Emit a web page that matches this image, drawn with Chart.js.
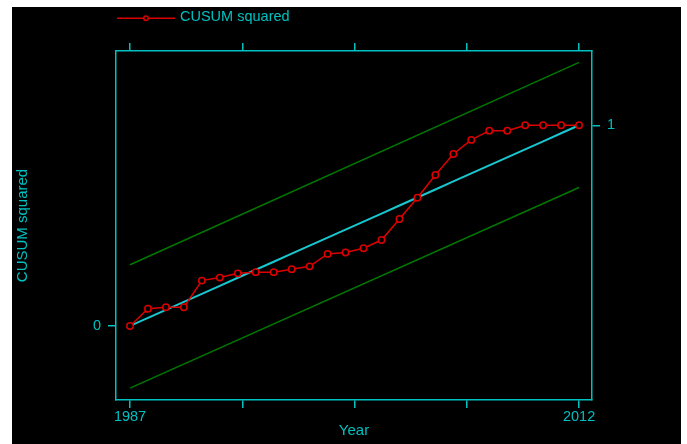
<!DOCTYPE html>
<html>
<head>
<meta charset="utf-8">
<script src="https://cdn.jsdelivr.net/npm/chart.js@4.4.1/dist/chart.umd.min.js"></script>
<style>
  html, body { margin: 0; padding: 0; background: #fff; }
  #wrap { position: absolute; left: 12px; top: 7px; width: 669px; height: 437px; background: #000; }
</style>
</head>
<body>
<div id="wrap"><canvas id="myChart"></canvas></div>
<script>
// values
const years = [1987, 1988, 1989, 1990, 1991, 1992, 1993, 1994, 1995, 1996, 1997, 1998, 1999,
  2000, 2001, 2002, 2003, 2004, 2005, 2006, 2007, 2008, 2009, 2010, 2011, 2012];
const cusumSq = [0, 0.086, 0.093, 0.093, 0.226, 0.241, 0.262, 0.268, 0.268, 0.283, 0.297, 0.359, 0.366,
  0.387, 0.428, 0.533, 0.639, 0.752, 0.857, 0.927, 0.973, 0.973, 1.0, 1.0, 1.0, 1.0];
const expected = [0, 0.04, 0.08, 0.12, 0.16, 0.2, 0.24, 0.28, 0.32, 0.36, 0.4, 0.44, 0.48,
  0.52, 0.56, 0.6, 0.64, 0.68, 0.72, 0.76, 0.8, 0.84, 0.88, 0.92, 0.96, 1.0];
const boundYears = [1987, 2012];
const upperBound = [0.305, 1.313];
const lowerBound = [-0.31, 0.69];
const xTicks = [1987, 1993.25, 1999.5, 2005.75, 2012];
const xLabels = ['1987', '', '', '', '2012'];

const cyan = '#00c0c0';
const font = { family: 'Liberation Sans, Arial, sans-serif', size: 15 };

function pts(xs, ys) {
  return xs.map((x, i) => ({ x: x, y: ys[i] }));
}

function axisGrid() {
  return { drawOnChartArea: false, drawTicks: true, tickLength: 8, color: cyan, lineWidth: 1.5 };
}

const legendPlugin = {
  id: 'cusumLegend',
  afterDraw(chart) {
    const ctx = chart.ctx;
    const x0 = chart.chartArea.left + 1;
    ctx.save();
    ctx.strokeStyle = '#dd0000';
    ctx.lineWidth = 1.5;
    ctx.beginPath();
    ctx.moveTo(x0, 11.3);
    ctx.lineTo(x0 + 58, 11.3);
    ctx.stroke();
    ctx.fillStyle = '#000';
    ctx.beginPath();
    ctx.arc(x0 + 29, 11.3, 2.2, 0, Math.PI * 2);
    ctx.fill();
    ctx.stroke();
    ctx.fillStyle = cyan;
    ctx.font = '14.5px ' + font.family;
    ctx.textBaseline = 'middle';
    ctx.fillText('CUSUM squared', x0 + 63, 10);
    ctx.restore();
  }
};

const ctx = document.getElementById('myChart').getContext('2d');
new Chart(ctx, {
  type: 'line',
  data: {
    datasets: [{
      label: 'CUSUM squared',
      data: pts(years, cusumSq),
      borderColor: '#dd0000',
      borderWidth: 1.5,
      pointRadius: 3.2,
      pointBorderWidth: 1.5,
      pointBorderColor: '#dd0000',
      pointBackgroundColor: '#000',
      tension: 0
    }, {
      label: 'expected',
      data: pts(years, expected),
      borderColor: '#18c8d0',
      borderWidth: 2,
      pointRadius: 0,
      tension: 0
    }, {
      label: 'upper',
      data: pts(boundYears, upperBound),
      borderColor: '#007800',
      borderWidth: 1.5,
      pointRadius: 0
    }, {
      label: 'lower',
      data: pts(boundYears, lowerBound),
      borderColor: '#007800',
      borderWidth: 1.5,
      pointRadius: 0
    }]
  },
  options: {
    responsive: true,
    maintainAspectRatio: false,
    animation: false,
    layout: { padding: 0 },
    plugins: { legend: { display: false }, tooltip: { enabled: false } },
    scales: {
      x: {
        type: 'linear', position: 'bottom', min: 1986.22, max: 2012.72,
        afterBuildTicks: s => { s.ticks = xTicks.map(v => ({ value: v })); },
        afterFit: s => { s.height = 44; },
        ticks: { color: cyan, font: { family: font.family, size: 14.5 }, padding: 0, maxRotation: 0,
          callback: (v, i) => xLabels[i] },
        grid: axisGrid(),
        border: { color: cyan, width: 1.5 },
        title: { display: true, text: 'Year', color: cyan, font: font, padding: { top: 0, bottom: 4 } }
      },
      x2: {
        type: 'linear', position: 'top', min: 1986.22, max: 2012.72,
        afterBuildTicks: s => { s.ticks = xTicks.map(v => ({ value: v })); },
        afterFit: s => { s.height = 44; },
        ticks: { display: false },
        grid: axisGrid(),
        border: { color: cyan, width: 1.5 }
      },
      y: {
        type: 'linear', position: 'left', min: -0.369, max: 1.37,
        afterBuildTicks: s => { s.ticks = [{ value: 0 }]; },
        afterFit: s => { s.width = 104; },
        ticks: { color: cyan, font: { family: font.family, size: 14.5 }, padding: 7 },
        grid: axisGrid(),
        border: { color: cyan, width: 1.5 },
        title: { display: true, text: 'CUSUM squared', color: cyan, font: font, padding: { top: 2, bottom: 0 } }
      },
      y2: {
        type: 'linear', position: 'right', min: -0.369, max: 1.37,
        afterBuildTicks: s => { s.ticks = [{ value: 1 }]; },
        afterFit: s => { s.width = 89; },
        ticks: { color: cyan, font: { family: font.family, size: 14.5 }, padding: 7 },
        grid: axisGrid(),
        border: { color: cyan, width: 1.5 }
      }
    }
  },
  plugins: [legendPlugin]
});
</script>
</body>
</html>
